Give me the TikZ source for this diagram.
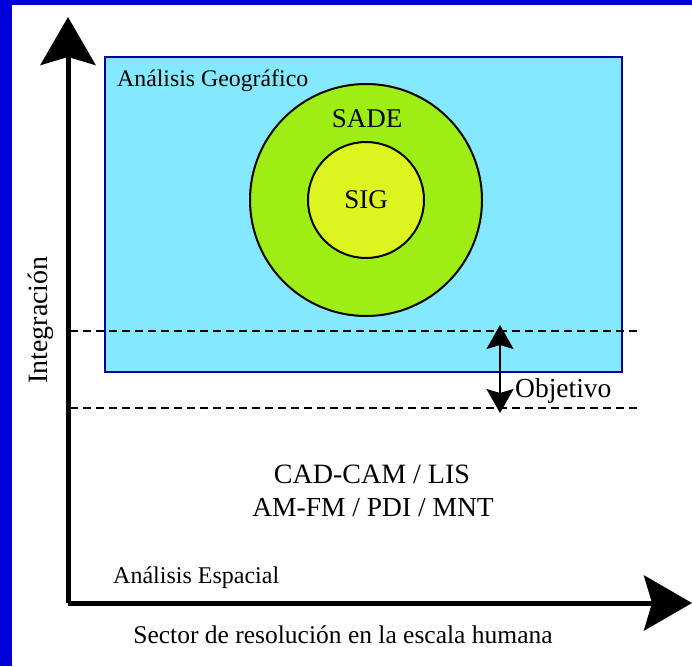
\documentclass[tikz,border=0pt]{standalone}
\usepackage{fontspec}
\setmainfont{Liberation Serif}
\usepackage{tikz}
\usetikzlibrary{positioning,%
  arrows.meta%
}
\definecolor{marco}{HTML}{0000DD}
\definecolor{borde}{HTML}{0000A0}
\definecolor{celeste}{HTML}{84E9FF}
\definecolor{lima}{HTML}{9CEE14}
\definecolor{limon}{HTML}{DDF51E}
\newcommand\tam[1]{\fontsize{#1}{#1}\selectfont}

\begin{document}
\begin{tikzpicture}[x=1pt,y=-1pt,
    eje/.style={line width=5pt,-{Stealth[length=48pt,width=55pt,inset=8pt]}},
    guia/.style={line width=2pt,dash pattern=on 8pt off 5pt},
    anillo/.style={circle,draw=black,line width=2pt,inner sep=0pt},
    texto/.style={inner sep=0pt,anchor=base west}]
            \useasboundingbox (0,0) rectangle (692,666);
            \fill[marco] (0,0) rectangle (12,666);
            \fill[marco] (0,0) rectangle (692,5);
            % zona de analisis geografico
            \draw[borde,line width=2.5pt,fill=celeste] (105,57) rectangle (622,372);
            \node[texto] (geo) at (117,87) {\tam{23.8}Análisis Geográfico};
            \node[anillo,fill=lima,minimum size=232pt] (sade) at (366,200) {};
            \node[anillo,fill=limon,minimum size=116pt] (sig) at (366,200) {\tam{27}SIG};
            \node[anchor=base,inner sep=0pt] (sadetxt) at (367,127) {\tam{27}SADE};
            % ejes
            \coordinate (origen) at (68,603);
            \coordinate (arriba) at (68,17);
            \coordinate (derecha) at (692,603);
            \draw[eje] (origen) -- (arriba);
            \draw[eje] (origen) -- (derecha);
            \node[anchor=base,inner sep=0pt,rotate=90] (integ) at (47,320) {\tam{28}Integración};
            \node[anchor=base,inner sep=0pt] (sector) at (343,643) {\tam{25.5}Sector de resolución en la escala humana};
            % objetivo
            \coordinate (g1a) at (70,331);
            \coordinate (g1b) at (640,331);
            \coordinate (g2a) at (70,408);
            \coordinate (g2b) at (640,408);
            \draw[guia] (g1a) -- (g1b);
            \draw[guia] (g2a) -- (g2b);
            \coordinate (obj1) at (500,325);
            \coordinate (obj2) at (500,413);
            \draw[line width=2pt,{Stealth[length=24pt,width=27pt,inset=4pt]}-{Stealth[length=24pt,width=27pt,inset=4pt]}]
                (obj1) -- (obj2);
            \node[texto] (objetivo) at (515,397) {\tam{27.5}Objetivo};
            % analisis espacial
            \node[inner sep=0pt,anchor=base] (cad) at (372,483)
                {\tam{28}CAD-CAM / LIS};
            \node[inner sep=0pt,anchor=base] (amfm) at (373,516)
                {\tam{27.5}AM-FM / PDI / MNT};
            \node[texto] (esp) at (113,583) {\tam{24}Análisis Espacial};
        \end{tikzpicture}
\end{document}
